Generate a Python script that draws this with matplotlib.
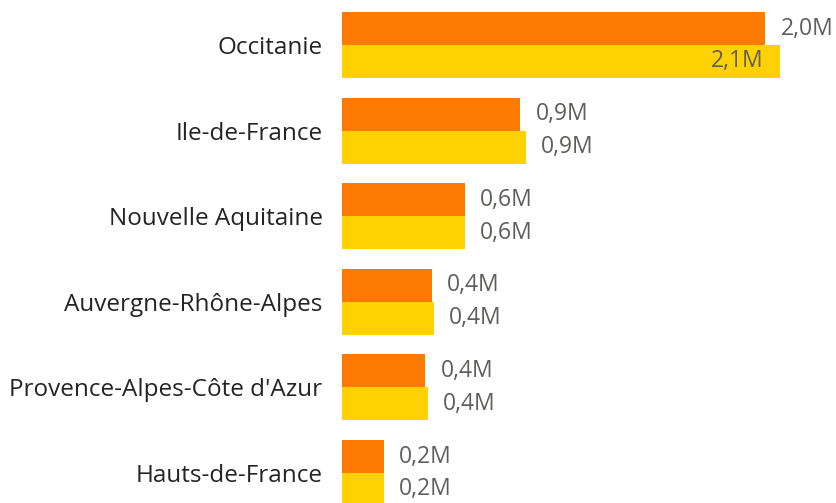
import matplotlib
matplotlib.use("Agg")
import matplotlib.pyplot as plt
import numpy as np

plt.rcParams['font.family'] = ['Open Sans', 'DejaVu Sans']

regions = ["Occitanie", "Ile-de-France", "Nouvelle Aquitaine", "Auvergne-Rhône-Alpes",
           "Provence-Alpes-Côte d'Azur", "Hauts-de-France"]
series_a = [2.03, 0.855, 0.59, 0.43, 0.40, 0.20]   # orange
series_b = [2.10, 0.88, 0.59, 0.44, 0.41, 0.20]   # yellow

col_a = "#FE7A00"
col_b = "#FFD100"
lab_col = "#605E5C"
cat_col = "#252423"

fig = plt.figure(figsize=(8.37, 5.03), dpi=100)
ax = fig.add_axes([342/837, 0, 1 - 342/837, 1])

y = np.arange(len(regions))
h = 0.385
ax.barh(y - h/2, series_a, height=h, color=col_a)
ax.barh(y + h/2, series_b, height=h, color=col_b)

xmax = 495/208.6
ax.set_xlim(0, xmax)
ax.set_ylim((503-45)/85.6, -45/85.6)

def fmt(v):
    return f"{v:.1f}M".replace('.', ',')

for i, (a, b) in enumerate(zip(series_a, series_b)):
    for v, yy in ((a, i - h/2), (b, i + h/2)):
        if v + 0.3 < xmax:
            ax.annotate(fmt(v), (v, yy), xytext=(11, 0), textcoords='offset points',
                        ha='left', va='center', fontsize=16.5, color=lab_col)
        else:
            ax.annotate(fmt(v), (v, yy), xytext=(-12, 0), textcoords='offset points',
                        ha='right', va='center', fontsize=16.5, color=lab_col)

ax.set_yticks(y)
ax.set_yticklabels(regions, fontsize=17.5, color=cat_col)
ax.tick_params(axis='y', length=0, pad=14)
ax.set_xticks([])
for s in ax.spines.values():
    s.set_visible(False)

fig.savefig("out.png", dpi=100)
